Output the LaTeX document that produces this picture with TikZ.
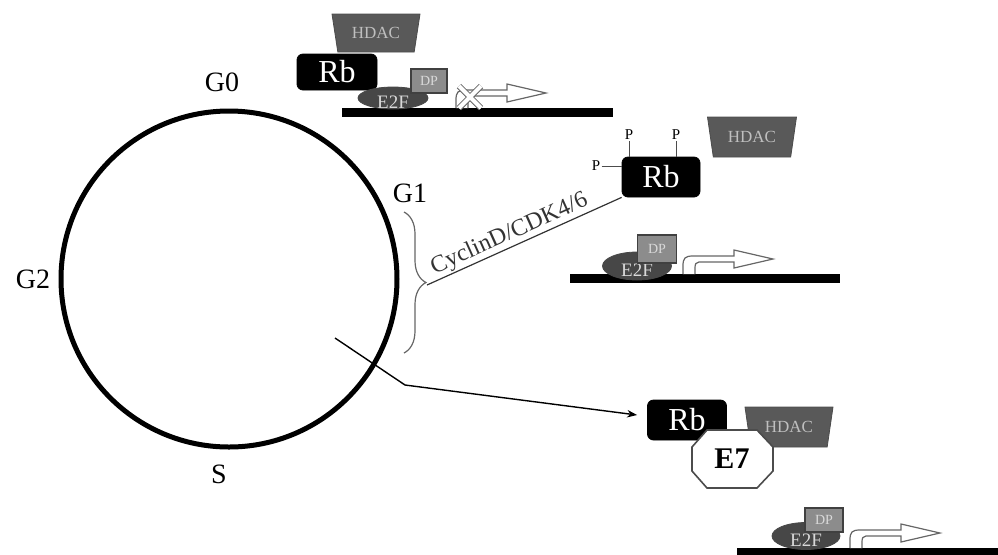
\documentclass[tikz,border=0pt]{standalone}
\usepackage{fontspec}
\setmainfont{Liberation Serif}
\usepackage{tikz}
\usetikzlibrary{arrows.meta,positioning,shapes.geometric,decorations.pathreplacing}

\begin{document}
\begin{tikzpicture}[x=0.5pt,y=-0.5pt,>=Stealth,
  rbbox/.style={rectangle,rounded corners=3pt,fill=black,draw=black,text=white,minimum width=40pt,minimum height=18pt,inner sep=0pt,font=\fontsize{16}{16}\selectfont},
  hdac/.style={trapezium,shape border rotate=180,trapezium angle=63,trapezium stretches body,minimum width=44pt,minimum height=19pt,inner sep=0pt,fill=black!65,draw=black!70,text=black!25,font=\fontsize{8.5}{8.5}\selectfont},
  efactor/.style={ellipse,minimum width=35pt,minimum height=11pt,inner sep=0pt,fill=black!72,draw=black!72,text=black!15,font=\fontsize{9.5}{9.5}\selectfont},
  dpbox/.style={rectangle,minimum width=18pt,minimum height=12pt,inner sep=0pt,fill=black!45,draw=black!75,line width=0.8pt,text=black!15,font=\fontsize{7}{7}\selectfont},
  dna/.style={line width=4.5pt},
  phase/.style={font=\fontsize{14}{14}\selectfont},
  plabel/.style={font=\fontsize{7.5}{7.5}\selectfont,inner sep=0.5pt},
  promoter/.style={draw=black!60,fill=white,line width=0.6pt}]
\useasboundingbox (0,0) rectangle (998,554);
% cell cycle
\node[circle,draw=black,line width=2.5pt,minimum size=168pt,inner sep=0pt] (cycle) at (229,279) {};
\node[phase] (g0) at (222,82) {G0};
\node[phase] (g1) at (410,193) {G1};
\node[phase] (g2) at (33,279) {G2};
\node[phase] (sph) at (219,474) {S};
% DNA strands and promoter arrows
\draw[dna] (342,112) -- (613,112);
\draw[dna] (570,278) -- (840,278);
\draw[dna] (737,552) -- (998,552);
\foreach \ox/\oy in {456/108,683/274,850/548}
  \draw[promoter,shift={(\ox,\oy)}] (0,0) -- (0,-8) .. controls (0,-16) and (2,-18) .. (10,-18) -- (51,-18) -- (51,-24) -- (90,-15) -- (51,-6) -- (51,-12) -- (16,-12) .. controls (13,-12) and (12,-10) .. (12,-6) -- (12,0);
\draw[draw=black!60,double=white,double distance=2pt,line width=0.5pt] (459,86) -- (481,108) (459,108) -- (481,86);
% G0: repressed complex
\node[rbbox] (rb1) at (337,72) {Rb};
\node[hdac] (hdac1) at (376,33) {HDAC};
\node[efactor] (e2f1) at (393,98) {\raisebox{-2pt}[\height][\depth]{E2F}};
\node[dpbox] (dp1) at (429,81) {DP};
% G1: phosphorylated Rb
\node[rbbox,minimum width=39pt,minimum height=20pt] (rb2) at (661,177) {Rb};
\node[plabel] (p1) at (629,135) {P};
\node[plabel] (p2) at (676,135) {P};
\node[plabel] (p3) at (596,166) {P};
\draw[black!70,line width=0.5pt] (p1) -- (p1 |- rb2.north);
\draw[black!70,line width=0.5pt] (p2) -- (p2 |- rb2.north);
\draw[black!70,line width=0.5pt] (p3) -- (p3 -| rb2.west);
\node[hdac,minimum width=44.5pt,minimum height=20pt] (hdac2) at (752,137) {HDAC};
\node[efactor,minimum width=34.5pt,minimum height=14pt] (e2f2) at (637,266) {\raisebox{-2pt}[\height][\depth]{E2F}};
\node[dpbox,minimum width=19.5pt,minimum height=14pt] (dp2) at (657,249) {DP};
\draw[decorate,decoration={brace,amplitude=11pt},draw=black!60,line width=0.6pt] (404,212) -- (404,353);
\coordinate (bracetip) at (427,285);
\draw[black!80,line width=0.6pt] (bracetip) -- node[sloped,above,pos=0.45,inner sep=0.5pt,font=\fontsize{12}{12}\selectfont] {CyclinD/CDK4/6} (rb2.south west);
% E7 bound Rb
\node[rbbox,minimum width=39.5pt,minimum height=20pt] (rb3) at (687,420) {Rb};
\node[hdac,minimum width=44pt,minimum height=20pt] (hdac3) at (789,427) {HDAC};
\filldraw[draw=black!70,fill=white,line width=0.8pt] (692,447) -- (707,430) -- (757,430) -- (773,447) -- (773,471) -- (757,488) -- (707,488) -- (692,471) -- cycle;
\node[inner sep=0pt,font=\bfseries\fontsize{15}{15}\selectfont] (e7) at (732,459) {E7};
\node[efactor,minimum width=34pt,minimum height=13.5pt] (e2f3) at (806,536) {\raisebox{-2pt}[\height][\depth]{E2F}};
\node[dpbox,minimum width=19pt] (dp3) at (824,520) {DP};
\coordinate (sphase) at (335,338);
\coordinate (kink) at (405,385);
\draw[-{Stealth[length=5pt]},line width=0.7pt] (sphase) -- (kink) -- ([xshift=-5pt,yshift=2.5pt]rb3.west);
\end{tikzpicture}
\end{document}
